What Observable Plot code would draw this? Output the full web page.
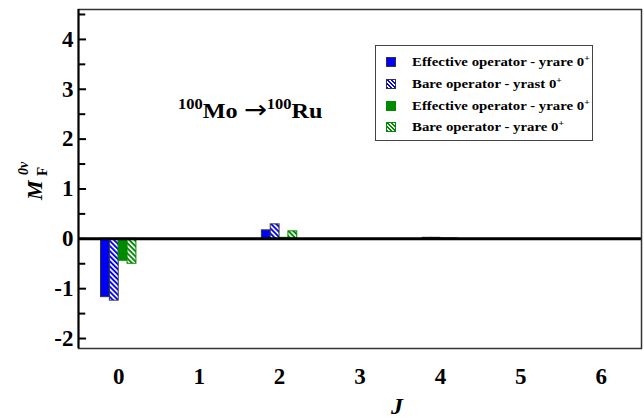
<!DOCTYPE html>
<html>
<head>
<meta charset="utf-8">
<script src="https://cdn.jsdelivr.net/npm/d3@7"></script>
<script src="https://cdn.jsdelivr.net/npm/@observablehq/plot@0.6"></script>
<style>
  html, body { margin: 0; padding: 0; background: #fff; }
  #wrap { position: relative; width: 644px; height: 420px; font-family: "Liberation Serif", "Times New Roman", serif; font-weight: bold; }
  .abs { position: absolute; white-space: nowrap; }
  #legend { left: 375px; top: 45px; width: 218px; height: 96px; border: 1px solid #444; box-sizing: border-box; background: #fff; }
  .row { position: absolute; left: 10px; height: 14px; font-size: 13px; line-height: 14px; }
  .sw { position: absolute; left: 0; top: 2px; width: 10px; height: 10px; box-sizing: border-box; }
  .row span.t { position: absolute; left: 26px; top: 0; transform: scaleX(1.14); transform-origin: 0 50%; }
  sup { font-size: 0.65em; vertical-align: 0; position: relative; top: -0.55em; }
  #anno { left: 178px; top: 95px; font-size: 22px; transform: scaleX(1.1); transform-origin: 0 50%; }
  #anno sup { font-size: 0.68em; top: -0.6em; }
  #anno .arr { font-family: "DejaVu Sans", sans-serif; font-weight: normal; font-size: 25px; }
  #ylab { left: 13px; top: 159px; width: 42px; height: 40px; transform: rotate(-90deg); transform-origin: 50% 50%; }
  #ylab span { position: absolute; line-height: 1; }
  #xlab { left: 391px; top: 393px; font-size: 24px; font-style: italic; }
</style>
</head>
<body>
<div id="wrap"></div>
<script>
// ---- data ----
const J = [0, 1, 2, 3, 4, 5, 6];
const effYrareBlue   = [-1.17, 0, 0.17, 0, 0.02, 0, 0];
const bareYrastBlue  = [-1.24, 0, 0.29, 0, 0.02, 0, 0];
const effYrareGreen  = [-0.44, 0, 0.02, 0, 0.01, 0, 0];
const bareYrareGreen = [-0.50, 0, 0.15, 0, 0.01, 0, 0];
const seriesNames = [
  "Effective operator - yrare 0",
  "Bare operator - yrast 0",
  "Effective operator - yrare 0",
  "Bare operator - yrare 0"
];
const yMajor = [-2, -1, 0, 1, 2, 3, 4];
const yMinor = [-1.5, -0.5, 0.5, 1.5, 2.5, 3.5, 4.5];
const xTicks = J;

const BLUE = "#0000ff", GREEN = "#008a00";
const series = [
  {values: effYrareBlue,   fill: BLUE, stroke: "#333"},
  {values: bareYrastBlue,  fill: "url(#hatchBlue)", stroke: "#333"},
  {values: effYrareGreen,  fill: GREEN, stroke: GREEN},
  {values: bareYrareGreen, fill: "url(#hatchGreen)", stroke: GREEN}
];
const bw = 0.11;

const defsMark = () => {
  const g = d3.create("svg:g");
  const defs = g.append("defs");
  [["hatchBlue", BLUE], ["hatchGreen", GREEN]].forEach(([id, c]) => {
    const p = defs.append("pattern")
      .attr("id", id).attr("patternUnits", "userSpaceOnUse")
      .attr("width", 3.6).attr("height", 3.6)
      .attr("patternTransform", "rotate(-45)");
    p.append("rect").attr("width", 3.6).attr("height", 3.6).attr("fill", "#fff");
    p.append("rect").attr("width", 1.9).attr("height", 3.6).attr("fill", c);
  });
  return g.node();
};

const barMarks = series.map((s, k) => Plot.rectY(J.map((j, i) => ({J: j, v: s.values[i]})), {
  x1: d => d.J - 2 * bw + k * bw,
  x2: d => d.J - 2 * bw + (k + 1) * bw,
  y1: 0, y2: "v",
  fill: s.fill, stroke: s.stroke, strokeWidth: 1
}));

const chart = Plot.plot({
  width: 644, height: 420,
  marginLeft: 78, marginRight: 3, marginTop: 9, marginBottom: 72,
  style: {fontFamily: "'Liberation Serif', 'Times New Roman', serif", fontWeight: "bold", fontSize: "23px", background: "#fff", color: "#000"},
  x: {type: "linear", domain: [-0.5, 6.5]},
  y: {domain: [-2.2, 4.6]},
  marks: [
    defsMark,
    ...barMarks,
    Plot.ruleY([0], {stroke: "#000", strokeWidth: 3}),
    Plot.frame({stroke: "#333", strokeWidth: 1.5}),
    Plot.ruleX([-0.5], {stroke: "#000", strokeWidth: 2}),
    Plot.ruleY(yMajor, {x1: -0.5, x2: -0.4, stroke: "#000", strokeWidth: 2}),
    Plot.ruleY(yMinor, {x1: -0.5, x2: -0.41, stroke: "#000", strokeWidth: 2}),
    Plot.axisY({ticks: yMajor, tickSize: 0, tickPadding: 5, tickFormat: d => String(d), label: null, fontSize: 23}),
    Plot.axisX({ticks: xTicks, tickSize: 0, tickPadding: 19, tickFormat: d => String(d), label: null, fontSize: 23})
  ]
});

const wrap = document.getElementById("wrap");
wrap.appendChild(chart);

// legend
const leg = document.createElement("div");
leg.id = "legend"; leg.className = "abs";
const swStyles = [
  `background:${BLUE};border:1px solid #333;`,
  `background:repeating-linear-gradient(45deg, ${BLUE} 0 1.4px, #fff 1.4px 2.8px);border:1px solid #333;`,
  `background:${GREEN};border:1px solid ${GREEN};`,
  `background:repeating-linear-gradient(45deg, ${GREEN} 0 1.4px, #fff 1.4px 2.8px);border:1px solid ${GREEN};`
];
const rowTops = [9, 31, 53, 74];
seriesNames.forEach((name, k) => {
  const r = document.createElement("div");
  r.className = "row"; r.style.top = rowTops[k] + "px";
  r.innerHTML = `<div class="sw" style="${swStyles[k]}"></div><span class="t">${name}<sup>+</sup></span>`;
  leg.appendChild(r);
});
wrap.appendChild(leg);

const anno = document.createElement("div");
anno.id = "anno"; anno.className = "abs";
anno.innerHTML = `<sup>100</sup>Mo <span class="arr">→</span><sup>100</sup>Ru`;
wrap.appendChild(anno);

const ylab = document.createElement("div");
ylab.id = "ylab"; ylab.className = "abs";
ylab.innerHTML =
  `<span style="left:0;top:10px;font-size:22px;font-style:italic;">M</span>` +
  `<span style="left:25px;top:3px;font-size:14px;font-style:italic;">0ν</span>` +
  `<span style="left:24px;top:21px;font-size:15px;">F</span>`;
wrap.appendChild(ylab);

const xlab = document.createElement("div");
xlab.id = "xlab"; xlab.className = "abs";
xlab.textContent = "J";
wrap.appendChild(xlab);
</script>
</body>
</html>
